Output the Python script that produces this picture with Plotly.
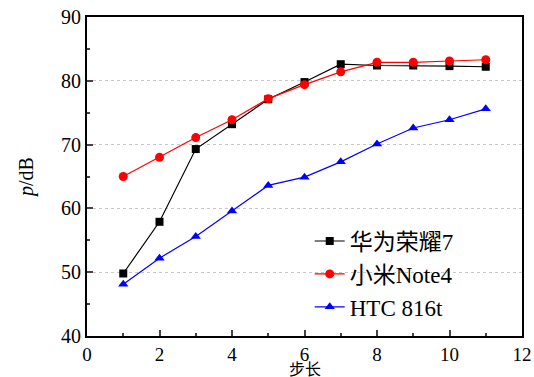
import plotly.graph_objects as go

steps = [1, 2, 3, 4, 5, 6, 7, 8, 9, 10, 11]
huawei = [49.8, 57.9, 69.3, 73.2, 77.1, 79.8, 82.6, 82.4, 82.4, 82.3, 82.2]
xiaomi = [65.0, 68.0, 71.1, 73.9, 77.2, 79.4, 81.4, 82.9, 82.9, 83.1, 83.3]
htc = [48.1, 52.2, 55.6, 59.6, 63.6, 64.9, 67.3, 70.1, 72.6, 73.9, 75.6]
names = ["华为荣耀7", "小米Note4", "HTC 816t"]
x_title = "步长"
y_title = "<i>p</i>/dB"

font = "Liberation Serif, Times New Roman, Noto Sans CJK SC, serif"

fig = go.Figure()
fig.add_trace(go.Scatter(x=steps, y=huawei, name=names[0], mode="lines+markers",
                         line=dict(color="black", width=1.2),
                         marker=dict(symbol="square", size=8, color="black")))
fig.add_trace(go.Scatter(x=steps, y=xiaomi, name=names[1], mode="lines+markers",
                         line=dict(color="red", width=1.2),
                         marker=dict(symbol="circle", size=9, color="red")))
fig.add_trace(go.Scatter(x=steps, y=htc, name=names[2], mode="lines+markers",
                         line=dict(color="blue", width=1.2),
                         marker=dict(symbol="triangle-up", size=9, color="blue")))

fig.update_layout(
    width=534, height=377,
    margin=dict(l=87, r=12, t=17, b=41),
    plot_bgcolor="white", paper_bgcolor="white",
    font=dict(family=font, size=20, color="black"),
    showlegend=True,
    legend=dict(x=0.512, y=0.365, xanchor="left", yanchor="top",
                bgcolor="rgba(0,0,0,0)", font=dict(size=23, family=font),
                tracegroupgap=0),
    xaxis=dict(range=[0, 12], dtick=2, ticks="inside", ticklen=6, tickwidth=1.5,
               minor=dict(dtick=1, ticks="inside", ticklen=3, tickwidth=1.5, showgrid=False),
               showline=True, linewidth=2, linecolor="black", mirror=True,
               showgrid=False, zeroline=False, automargin=False,
               ticklabeloverflow="allow", ticklabelstandoff=0,
               tickfont=dict(size=19)),
    yaxis=dict(range=[40, 90], dtick=10, ticks="inside", ticklen=6, tickwidth=1.5,
               minor=dict(dtick=5, ticks="inside", ticklen=3, tickwidth=1.5, showgrid=False),
               showline=True, linewidth=2, linecolor="black", mirror=True,
               showgrid=True, gridcolor="#c8c8c8", griddash="dot", gridwidth=1,
               zeroline=False, automargin=False,
               ticklabeloverflow="allow",
               title=dict(text=y_title, standoff=22, font=dict(size=20))),
    annotations=[dict(text=x_title, xref="paper", yref="paper", x=0.5, y=0,
                      xanchor="center", yanchor="top", yshift=-24, showarrow=False,
                      borderpad=0, font=dict(size=16))],
)

fig.write_html("out.html", config={"displayModeBar": False},
               post_script="document.body.style.margin='0';")
